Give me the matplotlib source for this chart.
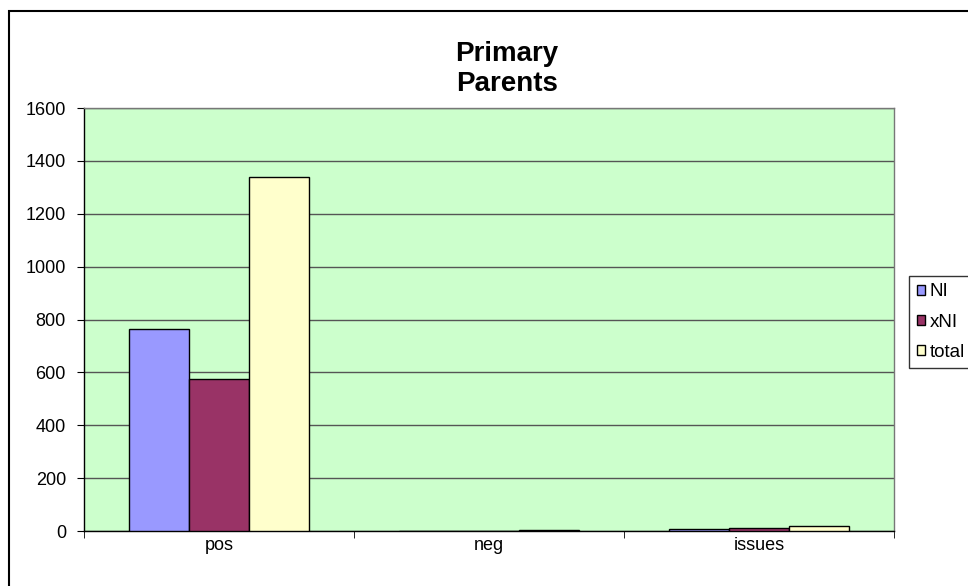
import matplotlib.pyplot as plt
import numpy as np
from matplotlib.patches import Rectangle

categories = ["pos", "neg", "issues"]
series_names = ["NI", "xNI", "total"]
ni_values = [765, 0, 6]
xni_values = [575, 0, 12]
total_values = [1340, 5, 18]
y_ticks = [0, 200, 400, 600, 800, 1000, 1200, 1400, 1600]

colors = ["#9999FF", "#993366", "#FFFFCC"]

plt.rcParams["font.family"] = ["Liberation Sans", "DejaVu Sans"]


def main():
    fig = plt.figure(figsize=(9.68, 5.86), dpi=100)
    fig.patch.set_facecolor("white")

    # chart border (right and bottom fall outside the picture)
    fig.patches.append(Rectangle((9 / 968, -0.1), 1.2, (586 - 11) / 586 + 0.1,
                                 transform=fig.transFigure, fill=False,
                                 edgecolor="black", linewidth=1.5))

    ax = fig.add_axes([84 / 968, 55 / 586, 810 / 968, 423 / 586])
    ax.set_facecolor("#CCFFCC")

    x = np.arange(len(categories))
    w = 1 / 4.5
    for i, (vals, name) in enumerate(zip([ni_values, xni_values, total_values], series_names)):
        ax.bar(x + (i - 1) * w, vals, width=w, color=colors[i], edgecolor="black",
               linewidth=1, label=name, zorder=3)

    ax.set_xlim(-0.5, len(categories) - 0.5)
    ax.set_ylim(0, 1600)
    ax.set_yticks(y_ticks)
    ax.set_yticklabels([str(v) for v in y_ticks], fontsize=13)
    ax.yaxis.grid(True, color="#555555", linewidth=1, zorder=1)

    ax.set_xticks(x)
    ax.set_xticklabels(categories, fontsize=13)
    ax.tick_params(axis="x", which="major", length=0, pad=4)
    ax.set_xticks(np.arange(len(categories) + 1) - 0.5, minor=True)
    ax.tick_params(axis="x", which="minor", length=5, direction="out", color="black")
    ax.tick_params(axis="y", length=5, direction="out", pad=8)

    for s in ["left", "bottom"]:
        ax.spines[s].set_color("black")
        ax.spines[s].set_linewidth(1)
    for s in ["top", "right"]:
        ax.spines[s].set_color("#777777")
        ax.spines[s].set_linewidth(1)

    fig.text(507 / 968, 1 - 91 / 586, "Primary\nParents", ha="center", va="baseline",
             fontsize=20, fontweight="bold", linespacing=1.2)

    leg = ax.legend(loc="upper left", bbox_to_anchor=(909 / 968, 1 - 276 / 586),
                    bbox_transform=fig.transFigure, frameon=True, fancybox=False,
                    fontsize=13.5, handlelength=0.45, handleheight=0.45,
                    handletextpad=0.25, labelspacing=0.7, borderpad=0.4,
                    borderaxespad=0)
    leg.get_frame().set_edgecolor("black")
    leg.get_frame().set_linewidth(1)

    fig.savefig("out.png", dpi=100)


if __name__ == "__main__":
    main()
